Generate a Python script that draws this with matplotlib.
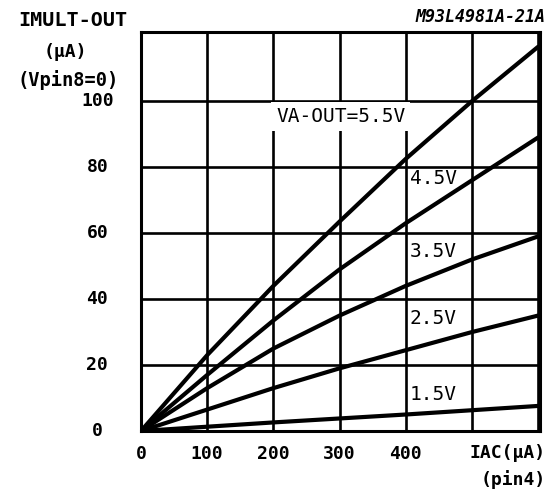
import matplotlib
matplotlib.use("Agg")
import matplotlib.pyplot as plt

# IAC (uA) sample points and IMULT-OUT (uA)
iac = [0, 100, 200, 300, 400, 500, 600]
va_out = ["VA-OUT=5.5V", "4.5V", "3.5V", "2.5V", "1.5V"]
imult = [
    [0, 23, 44, 63.5, 82.5, 100, 116.5],
    [0, 17, 33.5, 49, 63, 76, 89],
    [0, 13, 25, 35, 44, 52, 59],
    [0, 6.5, 13, 19, 24.5, 30, 35],
    [0, 1.3, 2.6, 3.8, 5.0, 6.3, 7.6],
]
# where each curve label sits (x, y in data units)
label_pos = [(204, 95.3), (406, 76.5), (406, 54.3), (406, 34), (406, 11.2)]

x_ticks = [0, 100, 200, 300, 400]
y_ticks = [0, 20, 40, 60, 80, 100]

W, H = 555, 490
mono = "DejaVu Sans Mono"

fig = plt.figure(figsize=(W / 100, H / 100), dpi=100)
ax = fig.add_axes([141 / W, 1 - 431 / H, (540 - 141) / W, (431 - 32) / H])
ax.set_xlim(0, 603)
ax.set_ylim(0, 121)

# grid
for xv in range(100, 601, 100):
    ax.axvline(xv, color="black", lw=1.9, zorder=1)
for yv in range(20, 101, 20):
    ax.axhline(yv, color="black", lw=1.9, zorder=1)

for ys in imult:
    ax.plot(iac, ys, color="black", lw=3.0, solid_capstyle="round", zorder=3)

for i, (lx, ly) in enumerate(label_pos):
    if i == 0:
        ax.text(lx, ly, va_out[i], ha="left", va="center", fontsize=14,
                family=mono, zorder=2.5,
                bbox=dict(facecolor="white", edgecolor="none", pad=3.5))
    else:
        ax.text(lx, ly, va_out[i], ha="left", va="center", fontsize=14,
                family=mono, zorder=2.5)

for s in ax.spines.values():
    s.set_linewidth(2.2)

ax.set_xticks(x_ticks)
ax.set_yticks(y_ticks)
ax.tick_params(length=0, pad=10)
ax.set_xticklabels([str(v) for v in x_ticks], family=mono, fontsize=13,
                   fontweight="bold")
ax.set_yticklabels([])
for v in y_ticks:
    ax.text(-66, v, str(v), ha="center", va="center", family=mono,
            fontsize=13, fontweight="bold", clip_on=False)


def px(x, y):
    return x / W, 1 - y / H


fig.text(*px(546, 453), "IAC(\u03bcA)", ha="right", va="center", family=mono,
         fontsize=13, fontweight="bold")
fig.text(*px(546, 480), "(pin4)", ha="right", va="center", family=mono,
         fontsize=13, fontweight="bold")
fig.text(*px(73, 20), "IMULT-OUT", ha="center", va="center", family=mono,
         fontsize=14.5, fontweight="bold")
fig.text(*px(65, 52), "(\u03bcA)", ha="center", va="center", family=mono,
         fontsize=13, fontweight="bold")
fig.text(*px(68, 80), "(Vpin8=0)", ha="center", va="center", family=mono,
         fontsize=13.5, fontweight="bold")
fig.text(*px(545, 17), "M93L4981A-21A", ha="right", va="center", family=mono,
         fontsize=12, fontweight="bold", style="italic")

fig.savefig("out.png", dpi=100)
